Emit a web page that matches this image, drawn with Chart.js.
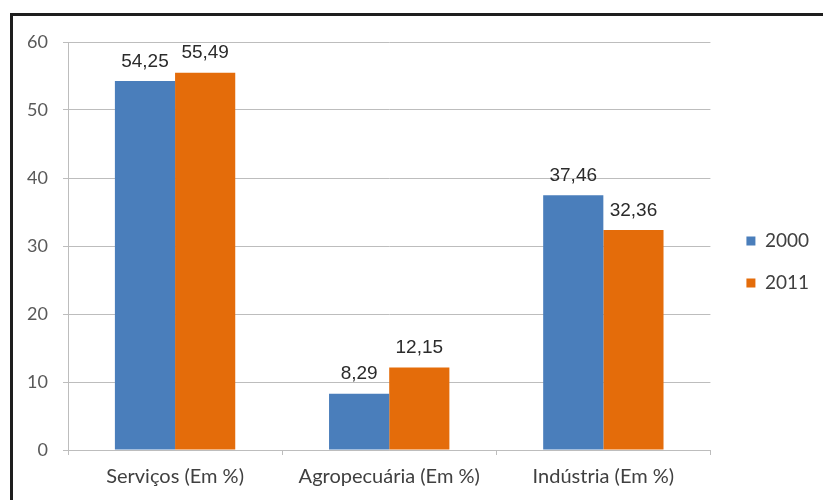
<!DOCTYPE html>
<html>
<head>
<meta charset="utf-8">
<script src="https://cdn.jsdelivr.net/npm/chart.js@4/dist/chart.umd.min.js"></script>
<style>
  html, body { margin: 0; padding: 0; background: #fff; overflow: hidden; }
  #wrap { position: relative; width: 823px; height: 500px; }
  #frame { position: absolute; left: 10px; top: 13px; width: 830px; height: 510px;
           border: 3px solid #1e1e1e; box-sizing: border-box; pointer-events: none; }
  canvas { position: absolute; left: 0; top: 0; }
</style>
</head>
<body>
<div id="wrap">
  <canvas id="chart" width="823" height="500"></canvas>
  <div id="frame"></div>
</div>
<script>
// values
const categories = ['Serviços (Em %)', 'Agropecuária (Em %)', 'Indústria (Em %)'];
const values2000 = [54.25, 8.29, 37.46];
const values2011 = [55.49, 12.15, 32.36];
const yTicks     = [0, 10, 20, 30, 40, 50, 60];

const BLUE   = '#4a7ebb';
const ORANGE = '#e46c0a';
const GRID   = '#bdbdbd';
const FONT   = 'Lato, "Open Sans", sans-serif';

// value labels above each bar, comma decimals like the original
const barLabels = {
  id: 'barLabels',
  afterDatasetsDraw(chart) {
    const ctx = chart.ctx;
    ctx.save();
    ctx.font = '19px "Liberation Sans", Arial, sans-serif';
    ctx.fillStyle = '#2b2b2b';
    ctx.textAlign = 'center';
    ctx.textBaseline = 'bottom';
    chart.data.datasets.forEach((ds, i) => {
      chart.getDatasetMeta(i).data.forEach((bar, j) => {
        const txt = ds.data[j].toFixed(2).replace('.', ',');
        ctx.fillText(txt, bar.x, bar.y - 10);
      });
    });
    ctx.restore();
  }
};

// nudge the legend a little away from the plot
const legendShift = {
  id: 'legendShift',
  afterLayout(chart) {
    const lg = chart.legend;
    lg.left += 13; lg.right += 13;
    lg.top -= 9;   lg.bottom -= 9;
  }
};

new Chart(document.getElementById('chart'), {
  type: 'bar',
  data: {
    labels: categories,
    datasets: [
      { label: '2000', data: values2000, backgroundColor: BLUE },
      { label: '2011', data: values2011, backgroundColor: ORANGE }
    ]
  },
  plugins: [barLabels, legendShift],
  options: {
    responsive: false,
    animation: false,
    categoryPercentage: 0.562,
    barPercentage: 1.0,
    layout: { padding: { left: 20, top: 42, right: 17, bottom: 0 } },
    plugins: {
      tooltip: { enabled: false },
      legend: {
        position: 'right',
        labels: {
          boxWidth: 9, boxHeight: 9, padding: 23,
          color: '#404040',
          font: { family: FONT, size: 19 }
        }
      }
    },
    scales: {
      x: {
        afterFit(scale) { scale.height = 50; },
        grid: { drawOnChartArea: false, drawTicks: true, tickLength: 5, offset: true, color: GRID },
        border: { color: GRID },
        ticks: {
          padding: 10,
          color: '#404040',
          font: { family: FONT, size: 20 }
        }
      },
      y: {
        min: 0, max: 60,
        afterFit(scale) { scale.width = 48; },
        afterBuildTicks(scale) { scale.ticks = yTicks.map(v => ({ value: v })); },
        grid: { color: GRID, tickLength: 5 },
        border: { color: GRID },
        ticks: {
          padding: 15,
          color: '#595959',
          font: { family: FONT, size: 18 }
        }
      }
    }
  }
});
</script>
</body>
</html>
